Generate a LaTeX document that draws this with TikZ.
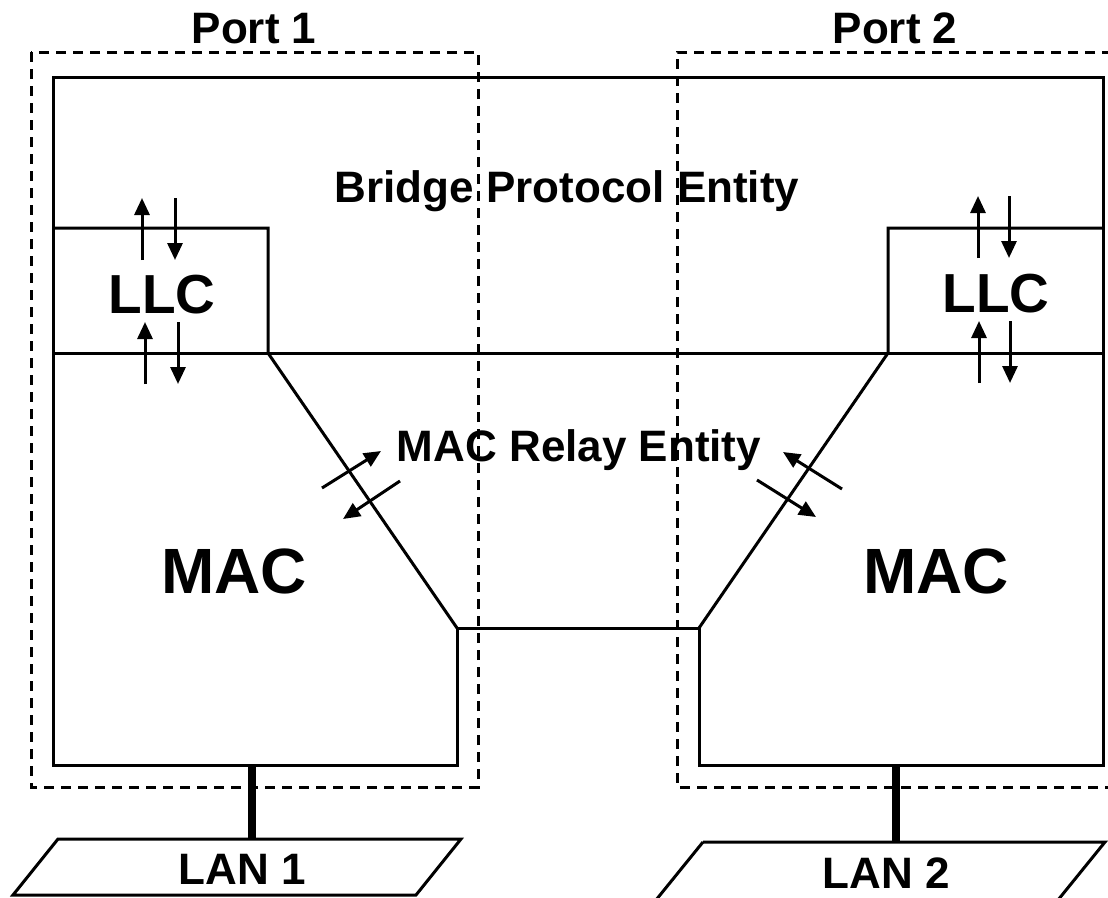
\documentclass[tikz,border=0pt]{standalone}
\usepackage{fontspec}
\setmainfont{Liberation Sans}
\usetikzlibrary{arrows.meta}
\begin{document}
\begin{tikzpicture}[x=1pt,y=-1pt,
  wire/.style={line width=3pt, line join=miter},
  portbox/.style={line width=3pt, dash pattern=on 10pt off 7pt},
  lanbar/.style={line width=8pt},
  flow/.style={line width=3pt, -{Triangle[length=17pt,width=15pt]}},
  lbl/.style={inner sep=0pt, anchor=base, font=\bfseries\fontsize{44}{48}\selectfont},
  biglbl/.style={inner sep=0pt, anchor=base, font=\bfseries\fontsize{55}{60}\selectfont},
  hugelbl/.style={inner sep=0pt, anchor=base, font=\bfseries\fontsize{64}{70}\selectfont}]
\useasboundingbox (0,0) rectangle (1108,897);

% corner coordinates
\coordinate (tl) at (53,77);
\coordinate (tr) at (1103,77);
\coordinate (ml) at (53,353);
\coordinate (mr) at (1103,353);
\coordinate (llcLtop) at (53,228);
\coordinate (llcLc) at (268,228);
\coordinate (llcLb) at (268,353);
\coordinate (llcRtop) at (1103,228);
\coordinate (llcRc) at (888,228);
\coordinate (llcRb) at (888,353);
\coordinate (relayL) at (457,628);
\coordinate (relayR) at (699,628);
\coordinate (macLb) at (457,765);
\coordinate (macRb) at (699,765);
\coordinate (bl) at (53,765);
\coordinate (br) at (1103,765);

% port dashed boxes
\draw[portbox] (31,52) rectangle (478,787);
\draw[portbox] (1112,52) -- (677,52) -- (677,787) -- (1112,787);

% solid outline
\draw[wire] (tl) -- (tr) -- (br) -- (macRb) -- (relayR) -- (relayL) -- (macLb) -- (bl) -- cycle;
\draw[wire] (ml) -- (mr);
\draw[wire] (llcLtop) -- (llcLc) -- (llcLb) -- (relayL);
\draw[wire] (llcRtop) -- (llcRc) -- (llcRb) -- (relayR);

% LANs
\coordinate (lan1top) at (252,839);
\coordinate (lan2top) at (896,842);
\draw[lanbar] (252,765) -- (lan1top);
\draw[lanbar] (896,765) -- (lan2top);
\draw[wire] (58,839) -- (461,839) -- (416,895) -- (13,895) -- cycle;
\draw[wire] (703,842) -- (1105,842) -- (1058,900);
\draw[wire] (703,842) -- (656,900);

% LLC arrows (left)
\draw[flow] (142,260) -- (142,198);
\draw[flow] (175,198) -- (175,260);
\draw[flow] (145,384) -- (145,322);
\draw[flow] (178,322) -- (178,384);
% LLC arrows (right)
\draw[flow] (978,258) -- (978,196);
\draw[flow] (1009,196) -- (1009,258);
\draw[flow] (979,383) -- (979,321);
\draw[flow] (1010,321) -- (1010,383);

% relay arrows
\draw[flow] (322,488) -- (381,451);
\draw[flow] (400,481) -- (343,519);
\draw[flow] (842,489) -- (783,452);
\draw[flow] (757,480) -- (816,517);

% labels
\node[lbl] (port1) at (254,43) {Port 1};
\node[lbl] (port2) at (895,43) {Port 2};
\node[lbl] (bpe) at (567,202) {Bridge Protocol Entity};
\node[biglbl] (llc1) at (162,313) {LLC};
\node[biglbl] (llc2) at (996,312) {LLC};
\node[lbl] (mre) at (579,461) {MAC Relay Entity};
\node[hugelbl] (mac1) at (234,593) {MAC};
\node[hugelbl] (mac2) at (936,593) {MAC};
\node[lbl] (lan1) at (242,884) {LAN 1};
\node[lbl] (lan2) at (886,888) {LAN 2};
\end{tikzpicture}
\end{document}
